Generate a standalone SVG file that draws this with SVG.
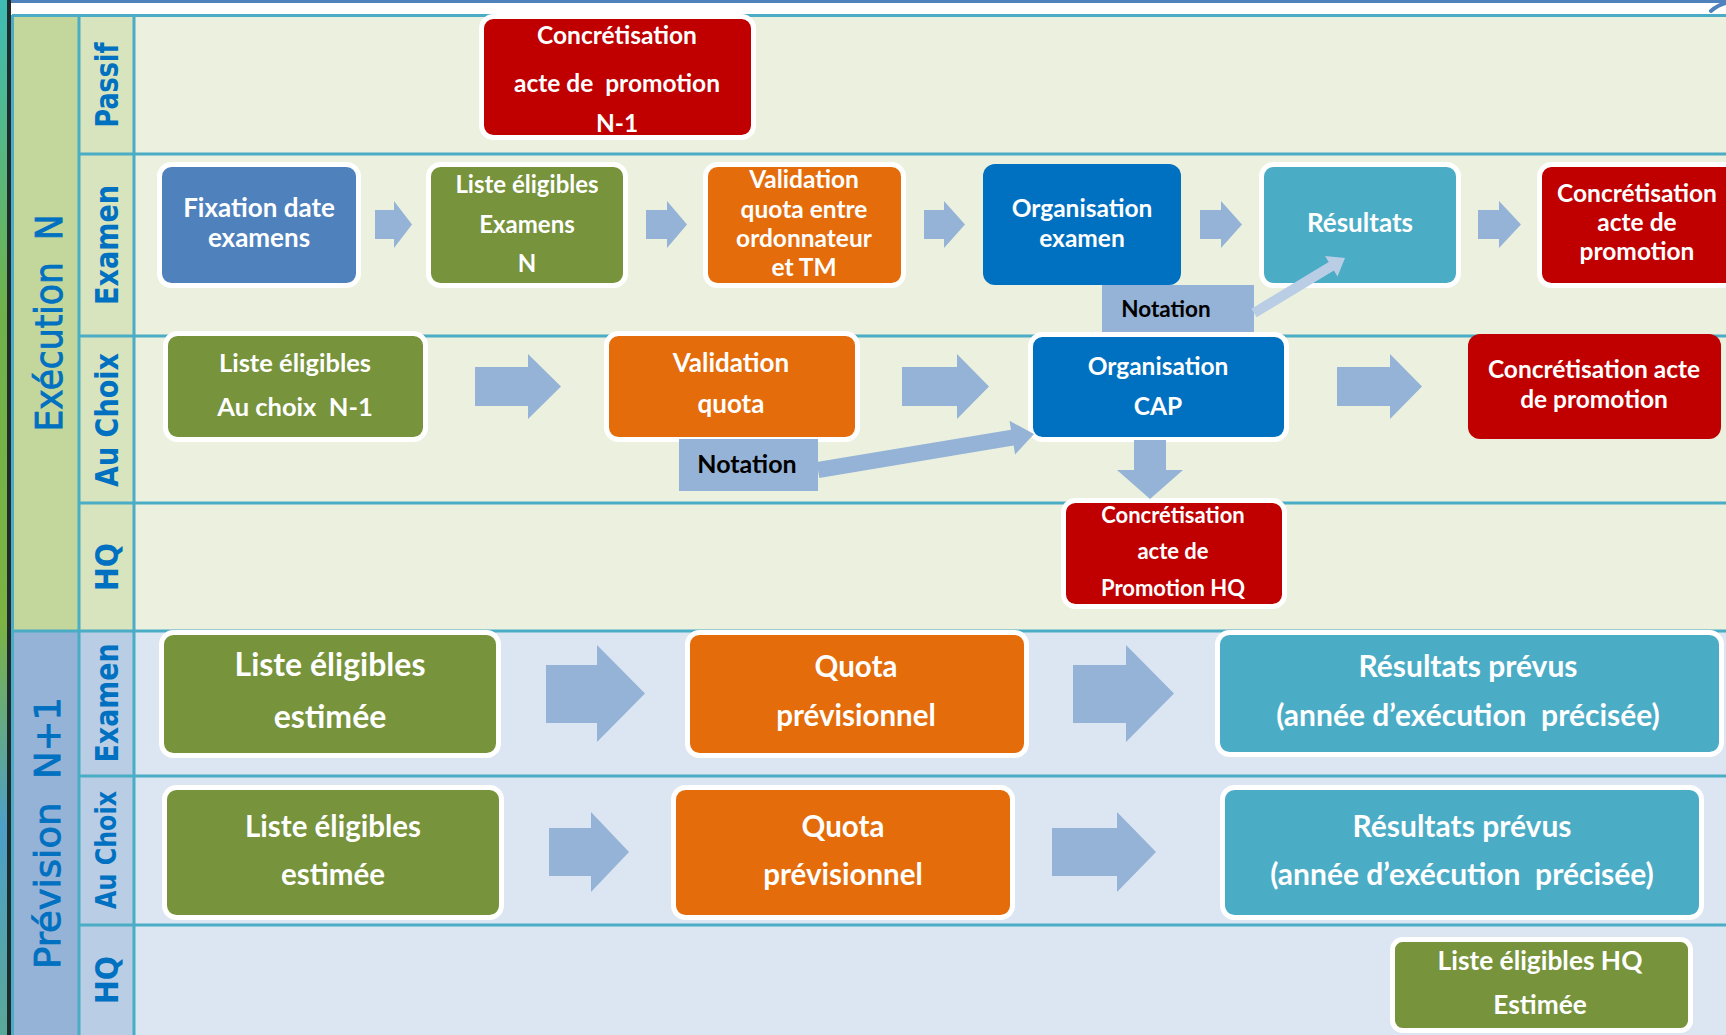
<svg xmlns="http://www.w3.org/2000/svg" width="1726" height="1035" viewBox="0 0 1726 1035">
  <defs>
    <linearGradient id="edge" x1="0" y1="0" x2="0" y2="1">
      <stop offset="0" stop-color="#3fbcb6"/>
      <stop offset="0.3" stop-color="#6fb24a"/>
      <stop offset="0.6" stop-color="#7cb342"/>
      <stop offset="0.8" stop-color="#4d9fc8"/>
      <stop offset="1" stop-color="#5aa898"/>
    </linearGradient>
    <style>
      .grid { stroke:#4bacc6; stroke-width:3; fill:none; }
      .node { stroke:#ffffff; stroke-width:5; }
      .bare { stroke:none; }
      .red { fill:#c00000; }
      .blue { fill:#4f81bd; }
      .green { fill:#77933c; }
      .orange { fill:#e46c0a; }
      .dark { fill:#0070c0; }
      .teal { fill:#4bacc6; }
      .note { fill:#95b3d7; }
      .arrow { fill:#95b3d7; }
      .arrow-light { fill:#b9cde5; }
      .t { font-family:Lato, "Open Sans", "DejaVu Sans", sans-serif; font-weight:700; fill:#ffffff; text-anchor:middle; }
      .tn { font-family:Lato, "Open Sans", "DejaVu Sans", sans-serif; font-weight:700; fill:#000000; text-anchor:middle; }
      .lane { font-family:"DejaVu Sans", Verdana, sans-serif; font-weight:700; fill:#0070c0; text-anchor:middle; }
      .phase { font-family:"DejaVu Sans", Verdana, sans-serif; fill:#0070c0; stroke:#0070c0; stroke-width:0.9; text-anchor:middle; }
    </style>
  </defs>

  <!-- page frame -->
  <rect x="0" y="0" width="1726" height="1035" fill="#ffffff"/>
  <rect x="0" y="0" width="7" height="1035" fill="url(#edge)"/>
  <rect x="7" y="0" width="4" height="1035" fill="#1f2a2a"/>
  <rect x="11" y="0" width="1715" height="3" fill="#4f81bd"/>
  <path d="M1711,11 Q1718,5 1726,3" stroke="#4f81bd" stroke-width="4" stroke-linecap="round" fill="none"/>

  <!-- swimlane backgrounds -->
  <g id="lanes">
    <rect x="12" y="16" width="67" height="615" fill="#c3d69b"/>
    <rect x="79" y="16" width="55" height="615" fill="#d7e4bd"/>
    <rect x="134" y="16" width="1592" height="615" fill="#ebf1de"/>
    <rect x="12" y="631" width="67" height="404" fill="#95b3d7"/>
    <rect x="79" y="631" width="55" height="404" fill="#b9cde5"/>
    <rect x="134" y="631" width="1592" height="404" fill="#dce6f2"/>
  </g>
  <g id="grid" class="grid">
    <line x1="12" y1="15.5" x2="1726" y2="15.5"/>
    <line x1="12.5" y1="15" x2="12.5" y2="1035"/>
    <line x1="79" y1="15" x2="79" y2="1035"/>
    <line x1="134" y1="15" x2="134" y2="1035"/>
    <line x1="79" y1="154" x2="1726" y2="154"/>
    <line x1="79" y1="336" x2="1726" y2="336"/>
    <line x1="79" y1="503" x2="1726" y2="503"/>
    <line x1="12" y1="631" x2="1726" y2="631"/>
    <line x1="79" y1="776" x2="1726" y2="776"/>
    <line x1="79" y1="925" x2="1726" y2="925"/>
  </g>

  <!-- phase and lane titles -->
  <g id="titles">
    <text class="phase" font-size="37" transform="translate(62,323) rotate(-90)" xml:space="preserve" textLength="217" lengthAdjust="spacingAndGlyphs">Exécution  N</text>
    <text class="phase" font-size="36" transform="translate(60,833) rotate(-90)" xml:space="preserve" textLength="272" lengthAdjust="spacingAndGlyphs">Prévision  N+1</text>
    <text class="lane" font-size="32" transform="translate(118,85) rotate(-90)" textLength="85" lengthAdjust="spacingAndGlyphs">Passif</text>
    <text class="lane" font-size="32" transform="translate(118,245) rotate(-90)" textLength="120" lengthAdjust="spacingAndGlyphs">Examen</text>
    <text class="lane" font-size="32" transform="translate(118,420) rotate(-90)" textLength="134" lengthAdjust="spacingAndGlyphs">Au Choix</text>
    <text class="lane" font-size="32" transform="translate(118,567) rotate(-90)" textLength="48" lengthAdjust="spacingAndGlyphs">HQ</text>
    <text class="lane" font-size="32" transform="translate(118,703) rotate(-90)" textLength="119" lengthAdjust="spacingAndGlyphs">Examen</text>
    <text class="lane" font-size="29" transform="translate(116,850) rotate(-90)" textLength="118" lengthAdjust="spacingAndGlyphs">Au Choix</text>
    <text class="lane" font-size="32" transform="translate(118,980) rotate(-90)" textLength="48" lengthAdjust="spacingAndGlyphs">HQ</text>
  </g>

  <!-- Exécution N : Passif -->
  <g id="n-passif-concretisation">
    <rect class="node red" x="481.5" y="16.5" width="272" height="121" rx="12"/>
    <text class="t" font-size="24.5" x="617" y="44">Concrétisation</text>
    <text class="t" font-size="24.5" x="617" y="92" xml:space="preserve">acte de  promotion</text>
    <text class="t" font-size="24.5" x="617" y="132">N-1</text>
  </g>

  <!-- Exécution N : Examen -->
  <g id="n-fixation">
    <rect class="node blue" x="159.5" y="164.5" width="199" height="121" rx="12"/>
    <text class="t" font-size="26" x="259" y="217">Fixation date</text>
    <text class="t" font-size="26" x="259" y="247">examens</text>
  </g>
  <g id="n-liste-examens">
    <rect class="node green" x="428.5" y="164.5" width="197" height="121" rx="12"/>
    <text class="t" font-size="24" x="527" y="193">Liste éligibles</text>
    <text class="t" font-size="24" x="527" y="233">Examens</text>
    <text class="t" font-size="24" x="527" y="272">N</text>
  </g>
  <g id="n-validation-entre">
    <rect class="node orange" x="705.5" y="164.5" width="198" height="121" rx="12"/>
    <text class="t" font-size="24.5" x="804" y="188">Validation</text>
    <text class="t" font-size="24.5" x="804" y="218">quota entre</text>
    <text class="t" font-size="24.5" x="804" y="247">ordonnateur</text>
    <text class="t" font-size="24.5" x="804" y="276">et TM</text>
  </g>
  <g id="n-organisation-examen">
    <rect class="dark bare" x="983" y="164" width="198" height="121" rx="12"/>
    <text class="t" font-size="24.5" x="1082" y="217">Organisation</text>
    <text class="t" font-size="24.5" x="1082" y="247">examen</text>
  </g>
  <g id="n-resultats">
    <rect class="node teal" x="1261.5" y="164.5" width="197" height="121" rx="12"/>
    <text class="t" font-size="26" x="1360" y="232">Résultats</text>
  </g>
  <g id="n-examen-concretisation">
    <rect class="node red" x="1539.5" y="164.5" width="200" height="121" rx="12"/>
    <text class="t" font-size="24.5" x="1637" y="202">Concrétisation</text>
    <text class="t" font-size="24.5" x="1637" y="231">acte de</text>
    <text class="t" font-size="24.5" x="1637" y="260">promotion</text>
  </g>
  <g id="n-notation-examen">
    <rect class="note" x="1102" y="285" width="152" height="48"/>
    <text class="tn" font-size="22.5" x="1166" y="317">Notation</text>
  </g>

  <!-- Exécution N : Au Choix -->
  <g id="n-liste-choix">
    <rect class="node green" x="165.5" y="333.5" width="260" height="106" rx="12"/>
    <text class="t" font-size="25.5" x="295" y="372">Liste éligibles</text>
    <text class="t" font-size="25.5" x="295" y="416" xml:space="preserve">Au choix  N-1</text>
  </g>
  <g id="n-validation-quota">
    <rect class="node orange" x="606.5" y="333.5" width="251" height="106" rx="12"/>
    <text class="t" font-size="26" x="731" y="372">Validation</text>
    <text class="t" font-size="26" x="731" y="413">quota</text>
  </g>
  <g id="n-organisation-cap">
    <rect class="node dark" x="1030.5" y="334.5" width="256" height="105" rx="12"/>
    <text class="t" font-size="24.5" x="1158" y="375">Organisation</text>
    <text class="t" font-size="24.5" x="1158" y="415">CAP</text>
  </g>
  <g id="n-choix-concretisation">
    <rect class="red bare" x="1468" y="334" width="253" height="105" rx="12"/>
    <text class="t" font-size="24.5" x="1594" y="378">Concrétisation acte</text>
    <text class="t" font-size="24.5" x="1594" y="408">de promotion</text>
  </g>
  <g id="n-notation-choix">
    <rect class="note" x="679" y="439" width="139" height="52"/>
    <text class="tn" font-size="25" x="747" y="473">Notation</text>
  </g>

  <!-- Exécution N : HQ -->
  <g id="n-hq-concretisation">
    <rect class="node red" x="1063.5" y="500.5" width="221" height="106" rx="12"/>
    <text class="t" font-size="22" x="1173" y="523">Concrétisation</text>
    <text class="t" font-size="22" x="1173" y="559">acte de</text>
    <text class="t" font-size="22" x="1173" y="596">Promotion HQ</text>
  </g>

  <!-- Prévision N+1 : Examen -->
  <g id="n-prev-liste-examen">
    <rect class="node green" x="161.5" y="632.5" width="337" height="123" rx="12"/>
    <text class="t" font-size="32" x="330" y="676">Liste éligibles</text>
    <text class="t" font-size="32" x="330" y="728">estimée</text>
  </g>
  <g id="n-prev-quota-examen">
    <rect class="node orange" x="687.5" y="632.5" width="339" height="123" rx="12"/>
    <text class="t" font-size="29.5" x="856" y="677">Quota</text>
    <text class="t" font-size="29.5" x="856" y="726">prévisionnel</text>
  </g>
  <g id="n-prev-resultats-examen">
    <rect class="node teal" x="1217.5" y="632.5" width="504" height="122" rx="12"/>
    <text class="t" font-size="30" x="1468" y="677">Résultats prévus</text>
    <text class="t" font-size="30" x="1468" y="726" xml:space="preserve">(année d’exécution  précisée)</text>
  </g>

  <!-- Prévision N+1 : Au Choix -->
  <g id="n-prev-liste-choix">
    <rect class="node green" x="164.5" y="787.5" width="337" height="130" rx="12"/>
    <text class="t" font-size="29.5" x="333" y="837">Liste éligibles</text>
    <text class="t" font-size="29.5" x="333" y="885">estimée</text>
  </g>
  <g id="n-prev-quota-choix">
    <rect class="node orange" x="673.5" y="787.5" width="339" height="130" rx="12"/>
    <text class="t" font-size="29.5" x="843" y="837">Quota</text>
    <text class="t" font-size="29.5" x="843" y="885">prévisionnel</text>
  </g>
  <g id="n-prev-resultats-choix">
    <rect class="node teal" x="1222.5" y="787.5" width="479" height="130" rx="12"/>
    <text class="t" font-size="30" x="1462" y="837">Résultats prévus</text>
    <text class="t" font-size="30" x="1462" y="885" xml:space="preserve">(année d’exécution  précisée)</text>
  </g>

  <!-- Prévision N+1 : HQ -->
  <g id="n-prev-liste-hq">
    <rect class="node green" x="1392.5" y="939.5" width="298" height="91" rx="10"/>
    <text class="t" font-size="26.3" x="1540" y="970">Liste éligibles HQ</text>
    <text class="t" font-size="26.3" x="1540" y="1014">Estimée</text>
  </g>

  <!-- connectors, drawn above the boxes they touch -->
  <g id="connectors">
    <polygon class="arrow" points="375,210 394,210 394,201 412,224.5 394,248 394,239 375,239"/>
    <polygon class="arrow" points="646,210 667,210 667,201 687,224.5 667,248 667,239 646,239"/>
    <polygon class="arrow" points="924,210 944,210 944,201 965,224.5 944,248 944,239 924,239"/>
    <polygon class="arrow" points="1200,210 1221,210 1221,201 1242,224.5 1221,248 1221,239 1200,239"/>
    <polygon class="arrow" points="1478,210 1499,210 1499,201 1521,224.5 1499,248 1499,239 1478,239"/>

    <polygon class="arrow" points="475,367 528,367 528,354 561,386.5 528,419 528,406 475,406"/>
    <polygon class="arrow" points="902,367 957,367 957,354 989,386.5 957,419 957,406 902,406"/>
    <polygon class="arrow" points="1337,367 1390,367 1390,354 1422,386.5 1390,419 1390,406 1337,406"/>

    <polygon class="arrow" points="1134,440 1166,440 1166,470 1183,470 1150,499 1117,470 1134,470"/>
    <polygon class="arrow" points="816.7,462.1 1011,429.7 1009.5,420.8 1034,434 1015.1,454.4 1013.6,445.5 819.3,477.9"/>
    <polygon class="arrow-light" points="1251.4,308.7 1328.7,262 1325.1,256 1345,258 1337.5,276.6 1333.9,270.6 1256.6,317.3"/>

    <polygon class="arrow" points="546,665 597,665 597,645 645,693.5 597,742 597,723 546,723"/>
    <polygon class="arrow" points="1073,665 1126,665 1126,645 1174,693.5 1126,742 1126,723 1073,723"/>
    <polygon class="arrow" points="549,828 591,828 591,812 629,852 591,892 591,876 549,876"/>
    <polygon class="arrow" points="1052,828 1117,828 1117,812 1156,852 1117,892 1117,876 1052,876"/>
  </g>
</svg>
